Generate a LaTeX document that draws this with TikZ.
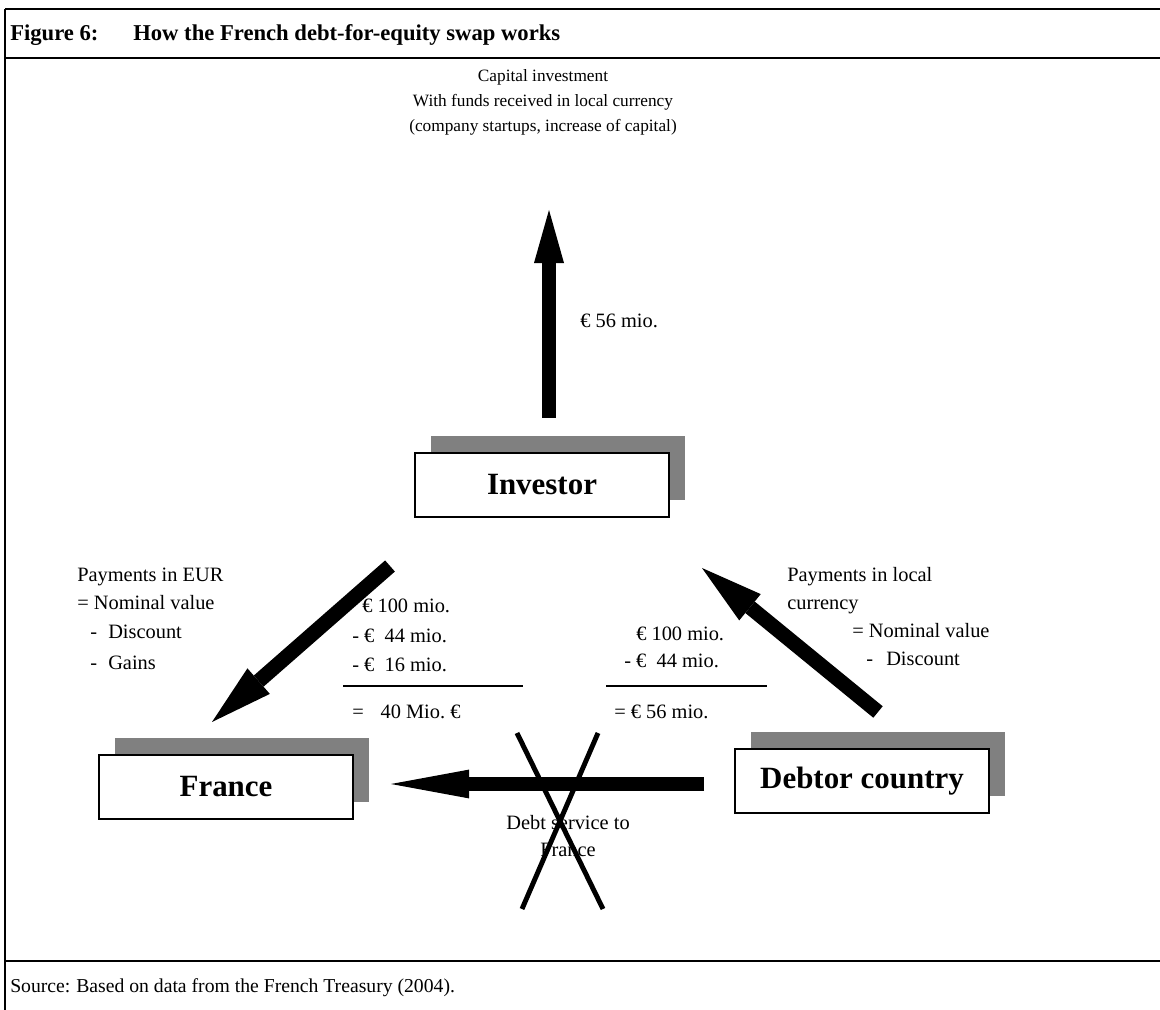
\documentclass[tikz,border=0pt]{standalone}
\usepackage{fontspec}
\setmainfont{Liberation Serif}
\usetikzlibrary{arrows.meta,shadows}
\definecolor{shade}{RGB}{128,128,128}
\newcommand\fbody{\fontsize{14.5pt}{17pt}\selectfont}
\newcommand\fsrc{\fontsize{14pt}{17pt}\selectfont}
\newcommand\ftop{\fontsize{12.3pt}{15pt}\selectfont}
\newcommand\fbig{\fontsize{22pt}{26pt}\selectfont\bfseries}
\newcommand\fttl{\fontsize{16.1pt}{19pt}\selectfont\bfseries}
\begin{document}
\begin{tikzpicture}[x=0.025cm,y=-0.025cm,
  txt/.style={inner sep=0pt, font=\fbody},
  lbl/.style={txt, anchor=base west},
  toptxt/.style={inner sep=0pt, font=\ftop, anchor=base},
  boxnode/.style={draw=black, line width=1.4pt, fill=white, minimum width=6.35cm,
    minimum height=1.6cm, inner sep=0pt, font=\fbig,
    general shadow={fill=shade, shadow xshift=0.4cm, shadow yshift=0.425cm}},
  uparrow/.style={line width=0.35cm, -{Triangle[length=1.325cm,width=0.75cm,line width=0pt]}},
  diagarrow/.style={line width=0.37cm, -{Triangle[length=1.55cm,width=0.85cm,line width=0pt]}},
  horarrow/.style={line width=0.35cm, -{Triangle[length=1.95cm,width=0.72cm,line width=0pt]}},
  framel/.style={line width=1.8pt},
  rulel/.style={line width=1.2pt},
  crossl/.style={line width=3.5pt}]
\useasboundingbox (0,0) rectangle (1160,1010);
% frame
\coordinate (ftl) at (5,9);
\coordinate (ftr) at (1160,9);
\coordinate (fhl) at (5,58);
\coordinate (fhr) at (1160,58);
\coordinate (fsl) at (5,961);
\coordinate (fsr) at (1160,961);
\coordinate (fbl) at (5,1010);
\draw[framel] (ftl) -- (ftr);
\draw[framel] (fhl) -- (fhr);
\draw[framel] (fsl) -- (fsr);
\draw[framel] (ftl) -- (fbl);
% title and source
\node[lbl, font=\fttl] (fig) at (10,41) {Figure 6:};
\node[lbl, font=\fttl] (ttl) at (133,41) {How the French debt-for-equity swap works};
\node[lbl, font=\fsrc] (src) at (10,992) {Source:};
\node[lbl, font=\fsrc] (srct) at (76,992) {Based on data from the French Treasury (2004).};
% top text
\node[toptxt] (ci1) at (543,82) {Capital investment};
\node[toptxt] (ci2) at (543,107) {With funds received in local currency};
\node[toptxt] (ci3) at (543,132) {(company startups, increase of capital)};
% boxes
\node[boxnode] (inv) at (542,485) {Investor};
\node[boxnode] (fra) at (226,787) {France};
\node[boxnode] (deb) at (862,781) {Debtor country};
% up arrow
\coordinate (upS) at (549,418);
\coordinate (upE) at (549,210);
\draw[uparrow] (upS) -- (upE);
\node[lbl] (e56) at (580,328) {€ 56 mio.};
% diagonal arrows
\coordinate (l1) at (390,566);
\coordinate (l2) at (212,722);
\draw[diagarrow] (l1) -- (l2);
\coordinate (r1) at (878,712);
\coordinate (r2) at (702,568);
\draw[diagarrow] (r1) -- (r2);
% horizontal arrow
\coordinate (h1) at (704,784);
\coordinate (h2) at (391,784);
\draw[horarrow] (h1) -- (h2);
% cross
\coordinate (x1) at (517,733);
\coordinate (x2) at (603,909);
\coordinate (x3) at (598,733);
\coordinate (x4) at (522,909);
\draw[crossl] (x1) -- (x2);
\draw[crossl] (x3) -- (x4);
\node[txt, anchor=base] (ds1) at (568,829) {Debt service to};
\node[txt, anchor=base] (ds2) at (568,856) {France};
% left payments text
\node[lbl] (pl1) at (77,582) {Payments in EUR};
\node[lbl] (pl2) at (77,610) {= Nominal value};
\node[lbl] (pl3) at (90,639) {-\hspace{0.28cm}Discount};
\node[lbl] (pl4) at (90,670) {-\hspace{0.28cm}Gains};
% right payments text
\node[lbl] (pr1) at (787,582) {Payments in local};
\node[lbl] (pr2) at (787,610) {currency};
\node[lbl] (pr3) at (852,638) {= Nominal value};
\node[lbl] (pr4) at (866,666) {-\hspace{0.33cm}Discount};
% left column
\node[lbl] (lc1) at (362,613) {€ 100 mio.};
\node[lbl] (lc2) at (352,643) {-~€~~44 mio.};
\node[lbl] (lc3) at (352,671) {-~€~~16 mio.};
\coordinate (lr1) at (343,686);
\coordinate (lr2) at (523,686);
\draw[rulel] (lr1) -- (lr2);
\node[lbl] (lc4) at (352,718) {=\hspace{0.42cm}40 Mio.~€};
% right column
\node[lbl] (rc1) at (636,641) {€ 100 mio.};
\node[lbl] (rc2) at (624,668) {-~€~~44 mio.};
\coordinate (rr1) at (606,686);
\coordinate (rr2) at (767,686);
\draw[rulel] (rr1) -- (rr2);
\node[lbl] (rc3) at (614,718) {=~€ 56 mio.};
\end{tikzpicture}
\end{document}
